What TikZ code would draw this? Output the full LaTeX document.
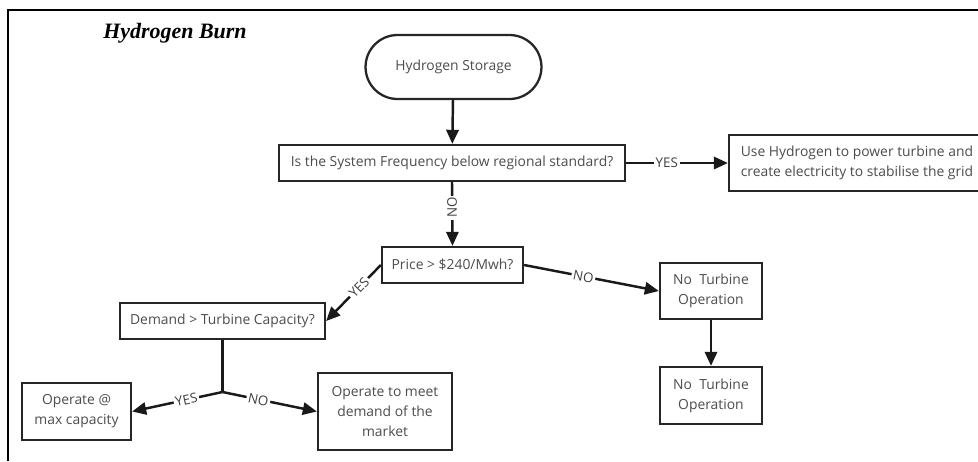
\documentclass[tikz,border=0pt]{standalone}
\usepackage{fontspec}
\setmainfont{Open Sans}
\newfontfamily\titlefont{Liberation Serif}
\usetikzlibrary{arrows.meta,positioning,shapes.misc}
\definecolor{txtgrey}{HTML}{4D4D4D}
\definecolor{edgegrey}{HTML}{262626}

\begin{document}
\begin{tikzpicture}[x=0.02cm, y=-0.02cm,
    box/.style={draw=edgegrey, line width=1.3pt, fill=white, text=txtgrey, inner sep=2pt,
        font=\fontsize{7.9}{11.3}\selectfont, align=center},
    flow/.style={line width=1.4pt, draw=black!90, -{Triangle[length=8pt,width=7pt]}},
    lbl/.style={fill=white, inner sep=1pt, text=black!75, font=\fontsize{7.6}{9}\selectfont},
]
\useasboundingbox (0,0) rectangle (978,461);
% Frame and title
\draw[line width=1pt] (8,461) -- (8,10) -- (978,10);
\node[font=\titlefont\bfseries\itshape\fontsize{12.5}{14}\selectfont] (title) at (175,33) {Hydrogen Burn};

% Top: storage and frequency check
\node[box, rounded rectangle, minimum width=3.66cm, minimum height=1.28cm] (store) at (453.5,67) {Hydrogen Storage};
\node[box, minimum width=6.92cm, minimum height=0.72cm] (freq) at (452,163) {Is the System Frequency below regional standard?};
\node[box, align=left, minimum width=5.12cm, minimum height=1.12cm] (usehyd) at (857,163)
    {Use Hydrogen to power turbine and\\create electricity to stabilise the grid};

% Middle: price check
\node[box, minimum width=2.82cm, minimum height=0.72cm] (price) at (452.5,265) {Price > \$240/Mwh?};
\node[box, minimum width=2.04cm, minimum height=1.12cm] (noturbA) at (711,291) {No\ \ Turbine\\Operation};
\node[box, minimum width=2.04cm, minimum height=1.14cm] (noturbB) at (711,395.5) {No\ \ Turbine\\Operation};

% Bottom: demand check
\node[box, minimum width=4.1cm, minimum height=0.72cm] (demand) at (222.5,321) {Demand > Turbine Capacity?};
\coordinate (split) at (222.5,392);
\node[box, minimum width=2.18cm, minimum height=1.14cm] (maxcap) at (76.5,411.5) {Operate @\\max capacity};
\node[box, minimum width=2.68cm, minimum height=1.54cm] (meet) at (385,411.5) {Operate to meet\\demand of the\\market};

% Connectors
\draw[flow] (store) -- (freq);
\draw[flow] (freq.east) -- node[lbl, pos=0.4] {YES} (usehyd.west);
\draw[flow] (freq.south) -- node[lbl, pos=0.4, rotate=90] {NO} (price.north);
\draw[flow] (price.east) -- node[lbl, pos=0.44, sloped] {NO} (noturbA.west);
\draw[flow] (price.west) -- node[lbl, pos=0.4, sloped] {YES} (demand.east);
\draw[flow] (noturbA) -- (noturbB);
\draw[line width=1.4pt, draw=black!90] (demand.south) -- (split);
\draw[flow] (split) -- node[lbl, pos=0.4, sloped] {YES} (maxcap.east);
\draw[flow] (split) -- node[lbl, pos=0.38, sloped] {NO} (meet.west);
\end{tikzpicture}
\end{document}
